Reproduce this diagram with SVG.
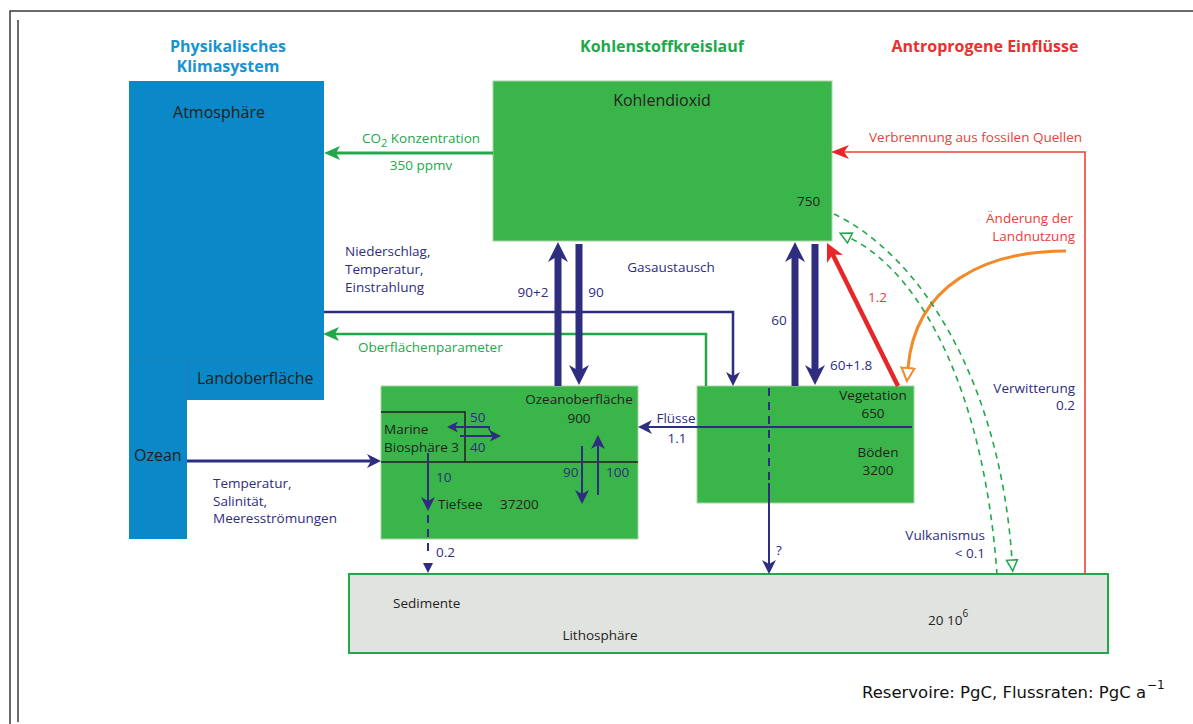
<svg xmlns="http://www.w3.org/2000/svg" width="1193" height="724" viewBox="0 0 1193 724">
<style>
text{font-family:"Open Sans","Liberation Sans",sans-serif}
.h{font-weight:bold;font-size:16px}
.hb{fill:#1b93d1}.hg{fill:#22a84a}.hr{fill:#e8302e}
.bl{font-size:16px;fill:#231f20}
.bs{font-size:13.5px;fill:#231f20}
.nv{font-size:13.5px;fill:#2e2d7f}
.gt{font-size:13.5px;fill:#22a84a}
.rt{font-size:13.5px;fill:#e8403a}
.note{font-family:"DejaVu Sans",sans-serif;fill:#111}
.box{fill:#39b54a;stroke:#a6d3a6;stroke-width:1}
.nav{stroke:#2e2d7f;fill:none}
.thick{stroke:#2e2d7f;stroke-width:7;fill:none}
.gd{stroke:#22a84a;stroke-width:1.6;fill:none;stroke-dasharray:6 5}
</style>
<defs>
<marker id="mThick" markerUnits="userSpaceOnUse" viewBox="0 0 20 20" markerWidth="20" markerHeight="20" refX="10" refY="10" orient="auto"><path d="M0,0 L20,10 L0,20 L6,10 z" fill="#2e2d7f"/></marker>
<marker id="mNav" markerUnits="userSpaceOnUse" viewBox="0 0 14 14" markerWidth="14" markerHeight="14" refX="7" refY="7" orient="auto"><path d="M0,0 L14,7 L0,14 L4,7 z" fill="#2e2d7f"/></marker>
<marker id="mNavS" markerUnits="userSpaceOnUse" viewBox="0 0 11 11" markerWidth="11" markerHeight="11" refX="5" refY="5.5" orient="auto"><path d="M0,0 L11,5.5 L0,11 L3,5.5 z" fill="#2e2d7f"/></marker>
<marker id="mGreen" markerUnits="userSpaceOnUse" viewBox="0 0 16 14" markerWidth="16" markerHeight="14" refX="8" refY="7" orient="auto"><path d="M0,0 L16,7 L0,14 L4,7 z" fill="#22a84a"/></marker>
<marker id="mRed" markerUnits="userSpaceOnUse" viewBox="0 0 18 14" markerWidth="18" markerHeight="14" refX="8" refY="7" orient="auto"><path d="M0,0 L18,7 L0,14 L5,7 z" fill="#e8262a"/></marker>
<marker id="mRedT" markerUnits="userSpaceOnUse" viewBox="0 0 18 18" markerWidth="18" markerHeight="18" refX="9" refY="9" orient="auto"><path d="M0,0 L18,9 L0,18 L5,9 z" fill="#e8262a"/></marker>
<marker id="mOr" markerUnits="userSpaceOnUse" viewBox="0 0 16 16" markerWidth="16" markerHeight="16" refX="1" refY="8" orient="auto"><path d="M1,1.5 L14,8 L1,14.5 z" fill="#fff" stroke="#f28a2a" stroke-width="2"/></marker>
<marker id="mGo" markerUnits="userSpaceOnUse" viewBox="0 0 14 14" markerWidth="14" markerHeight="14" refX="1" refY="7" orient="auto"><path d="M1,1.5 L12,7 L1,12.5 z" fill="#fff" stroke="#22a84a" stroke-width="1.5"/></marker>
</defs>

<g id="frame" stroke="#3a3a3a" stroke-width="1.5" fill="none">
<path d="M10,724 V11 H1193"/>
<path d="M18,20 V722"/>
</g>

<g id="headers">
<text class="h hb" x="228" y="52" text-anchor="middle">Physikalisches</text>
<text class="h hb" x="228" y="72" text-anchor="middle">Klimasystem</text>
<text class="h hg" x="662" y="52" text-anchor="middle">Kohlenstoffkreislauf</text>
<text class="h hr" x="985" y="52" text-anchor="middle">Antroprogene Einflüsse</text>
</g>

<g id="atmosphere">
<path d="M129,81 H324 V400 H187 V539 H129 Z" fill="#0a88c8"/>
<path d="M129,360 H324 M187,360 V400" stroke="#2a78ae" stroke-width="0.8" fill="none"/>
<text class="bl" x="219" y="118" text-anchor="middle">Atmosphäre</text>
<text class="bl" x="197" y="384">Landoberfläche</text>
<text class="bl" x="134" y="461">Ozean</text>
</g>

<g id="kohlendioxid">
<rect class="box" x="493" y="81" width="339" height="160"/>
<text class="bl" x="662" y="106" text-anchor="middle">Kohlendioxid</text>
<text class="bs" x="797" y="206">750</text>
</g>

<g id="ocean">
<rect class="box" x="381" y="386" width="257" height="153"/>
<path d="M381,412 H465 V462 M381,462 H638" stroke="#231f20" stroke-width="1.5" fill="none"/>
<text class="bs" x="579" y="404" text-anchor="middle">Ozeanoberfläche</text>
<text class="bs" x="579" y="423" text-anchor="middle">900</text>
<text class="bs" x="384" y="434">Marine</text>
<text class="bs" x="384" y="452">Biosphäre 3</text>
<text class="nv" x="470" y="422">50</text>
<text class="nv" x="470" y="452">40</text>
<text class="nv" x="436" y="482">10</text>
<text class="bs" x="438" y="509">Tiefsee</text>
<text class="bs" x="500" y="509">37200</text>
<text class="nv" x="563" y="477">90</text>
<text class="nv" x="606" y="477">100</text>
</g>

<g id="land">
<rect class="box" x="697" y="386" width="217" height="117"/>
<text class="bs" x="873" y="400" text-anchor="middle">Vegetation</text>
<text class="bs" x="873" y="418" text-anchor="middle">650</text>
<text class="bs" x="878" y="457" text-anchor="middle">Böden</text>
<text class="bs" x="878" y="475" text-anchor="middle">3200</text>
</g>

<g id="lithosphere">
<rect x="349" y="574" width="759" height="79" fill="#e1e3e1" stroke="#22a84a" stroke-width="2"/>
<text class="bs" x="393" y="608">Sedimente</text>
<text class="bs" x="600" y="640" text-anchor="middle">Lithosphäre</text>
<text class="bs" x="928" y="625">20 10<tspan dy="-8" font-size="10">6</tspan></text>
</g>

<g id="connectors">
<path d="M493,153 H332" stroke="#22a84a" stroke-width="3" fill="none" marker-end="url(#mGreen)"/>
<path d="M324,312 H733 V379" class="nav" stroke-width="2.5" marker-end="url(#mNav)"/>
<path d="M706,386 V334 H331" stroke="#22a84a" stroke-width="2.5" fill="none" marker-end="url(#mGreen)"/>
<path d="M187,461 H374" class="nav" stroke-width="3" marker-end="url(#mNav)"/>
<path d="M912,427 H645" class="nav" stroke-width="2" marker-end="url(#mNav)"/>
<path d="M558,386 V252" class="thick" marker-end="url(#mThick)"/>
<path d="M579,244 V375" class="thick" marker-end="url(#mThick)"/>
<path d="M795,386 V252" class="thick" marker-end="url(#mThick)"/>
<path d="M815,244 V375" class="thick" marker-end="url(#mThick)"/>
<path d="M898,386 L831,251" stroke="#e8262a" stroke-width="4.5" fill="none" marker-end="url(#mRedT)"/>
<path d="M1085,574 V152 H841" stroke="#ef4136" stroke-width="1.6" fill="none" marker-end="url(#mRed)"/>
<path d="M1066,251 C985,251 915,285 908,368" stroke="#f28a2a" stroke-width="3" fill="none" marker-end="url(#mOr)"/>
<path d="M834,214 C920,255 1000,380 1012,560" class="gd" marker-end="url(#mGo)"/>
<path d="M997,575 C985,400 925,275 850,238" class="gd" marker-end="url(#mGo)"/>
<path d="M490,427 H453" class="nav" stroke-width="2" marker-end="url(#mNavS)"/>
<path d="M488,427 L493,436" class="nav" stroke-width="1.5"/>
<path d="M460,436 H495" class="nav" stroke-width="2" marker-end="url(#mNavS)"/>
<path d="M582,446 V497" class="nav" stroke-width="2" marker-end="url(#mNav)"/>
<path d="M598,495 V442" class="nav" stroke-width="2" marker-end="url(#mNav)"/>
<path d="M428,453 V504" class="nav" stroke-width="2" marker-end="url(#mNav)"/>
<path d="M428,515 V557" class="nav" stroke-width="2" stroke-dasharray="8 6"/>
<path d="M423,563 L433,563 L428,573 Z" fill="#2e2d7f"/>
<path d="M769,388 V483" class="nav" stroke-width="2" stroke-dasharray="8 6"/>
<path d="M769,483 V567" class="nav" stroke-width="2" marker-end="url(#mNav)"/>
</g>

<g id="labels">
<text class="gt" x="362" y="143">CO<tspan dy="4" font-size="11">2</tspan><tspan dy="-4"> Konzentration</tspan></text>
<text class="gt" x="421" y="170" text-anchor="middle">350 ppmv</text>
<text class="nv" x="345" y="256">Niederschlag,</text>
<text class="nv" x="345" y="274">Temperatur,</text>
<text class="nv" x="345" y="292">Einstrahlung</text>
<text class="gt" x="358" y="352">Oberflächenparameter</text>
<text class="nv" x="213" y="488">Temperatur,</text>
<text class="nv" x="213" y="506">Salinität,</text>
<text class="nv" x="213" y="523">Meeresströmungen</text>
<text class="nv" x="671" y="272" text-anchor="middle">Gasaustausch</text>
<text class="nv" x="533" y="297" text-anchor="middle">90+2</text>
<text class="nv" x="596" y="297" text-anchor="middle">90</text>
<text class="nv" x="779" y="325" text-anchor="middle">60</text>
<text class="nv" x="830" y="370">60+1.8</text>
<text class="rt" x="868" y="302">1.2</text>
<text class="rt" x="1082" y="142" text-anchor="end">Verbrennung aus fossilen Quellen</text>
<text class="rt" x="1073" y="223" text-anchor="end">Änderung der</text>
<text class="rt" x="1075" y="241" text-anchor="end">Landnutzung</text>
<text class="nv" x="1075" y="393" text-anchor="end">Verwitterung</text>
<text class="nv" x="1075" y="410" text-anchor="end">0.2</text>
<text class="nv" x="985" y="540" text-anchor="end">Vulkanismus</text>
<text class="nv" x="985" y="558" text-anchor="end">&lt; 0.1</text>
<text class="nv" x="676" y="423" text-anchor="middle">Flüsse</text>
<text class="nv" x="677" y="443" text-anchor="middle">1.1</text>
<text class="nv" x="436" y="557">0.2</text>
<text class="nv" x="776" y="555">?</text>
<text class="note" x="862" y="698" font-size="16" textLength="284" lengthAdjust="spacingAndGlyphs">Reservoire: PgC, Flussraten: PgC a</text>
<text class="note" x="1147" y="689" font-size="12">−1</text>
</g>
</svg>
